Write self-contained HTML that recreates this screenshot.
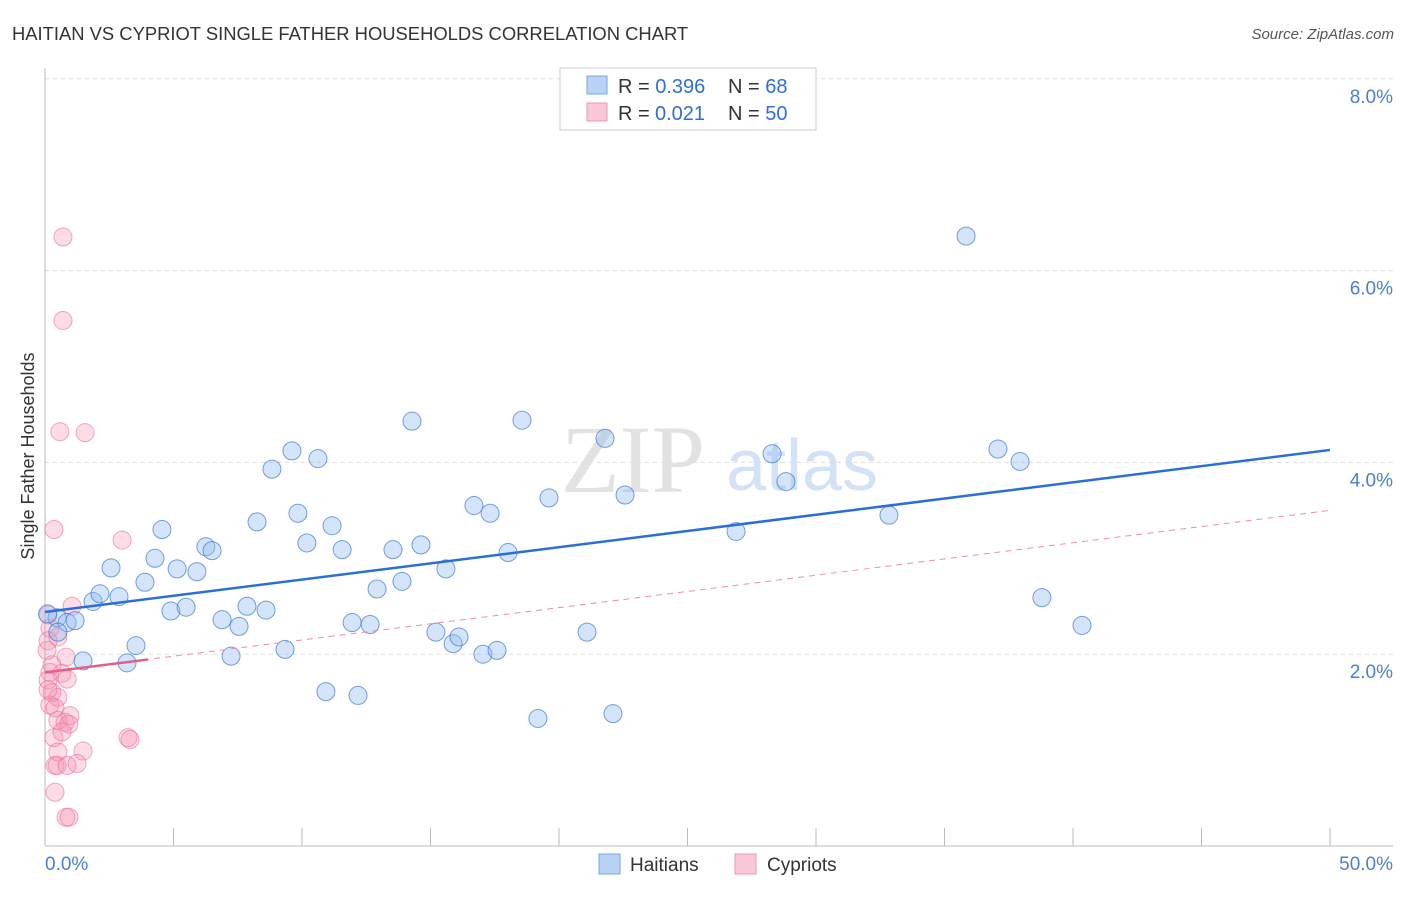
<!DOCTYPE html>
<html><head><meta charset="utf-8"><style>
body{margin:0;background:#fff;font-family:"Liberation Sans",sans-serif}
</style></head><body>
<svg width="1406" height="892" xmlns="http://www.w3.org/2000/svg" font-family="Liberation Sans, sans-serif">
<text x="12" y="40" font-size="18.4" fill="#333">HAITIAN VS CYPRIOT SINGLE FATHER HOUSEHOLDS CORRELATION CHART</text>
<text x="1394" y="39" font-size="15" fill="#555" font-style="italic" text-anchor="end">Source: ZipAtlas.com</text>
<g id="grid"></g>
<g id="axes"></g>
<text x="633" y="492" font-size="96" fill="#e2e2e2" font-family="Liberation Serif, serif" text-anchor="middle">ZIP</text>
<text x="802" y="490" font-size="72" fill="#d3e2f5" text-anchor="middle">atlas</text>
<g id="marks"></g>
<text transform="translate(34,456) rotate(-90)" font-size="18" fill="#333" text-anchor="middle">Single Father Households</text>
<g>
<rect x="560" y="68" width="256" height="62" fill="#fff" stroke="#ccc"/>
<rect x="587" y="76" width="20" height="18" fill="#b9d3f5" stroke="#7aa6e0"/>
<rect x="587" y="103" width="20" height="18" fill="#f9c7d6" stroke="#ec9ab4"/>
<text x="618" y="93" font-size="20" fill="#333">R = <tspan fill="#2f6fd6">0.396</tspan></text>
<text x="728" y="93" font-size="20" fill="#333">N = <tspan fill="#2f6fd6">68</tspan></text>
<text x="618" y="120" font-size="20" fill="#333">R = <tspan fill="#2f6fd6" x="655">0.021</tspan></text>
<text x="728" y="120" font-size="20" fill="#333">N = <tspan fill="#2f6fd6">50</tspan></text>
</g>
<g>
<rect x="599" y="854" width="21" height="20" fill="#b9d3f5" stroke="#7aa6e0"/>
<text x="630" y="871" font-size="19" fill="#333">Haitians</text>
<rect x="735" y="854" width="21" height="20" fill="#f9c7d6" stroke="#ec9ab4"/>
<text x="767" y="871" font-size="19" fill="#333">Cypriots</text>
</g>
</svg>
<script>
const yTicks=[2,4,6,8];
const yTickLabels=["2.0%","4.0%","6.0%","8.0%"];
const xEnds=[0,50];
const xEndLabels=["0.0%","50.0%"];
const haitiansX=[0.47,0.86,1.17,0.5,1.48,1.87,2.14,2.57,2.88,3.19,3.54,3.89,4.28,4.55,4.9,5.14,5.49,5.91,6.26,6.5,6.89,7.24,7.55,7.86,8.25,8.6,8.83,9.34,9.61,9.84,10.19,10.62,10.93,11.17,11.56,11.95,12.18,12.65,12.92,13.54,13.89,14.28,14.63,15.21,15.6,15.88,16.11,16.69,17.04,17.32,17.59,18.02,18.56,19.18,19.61,21.09,21.79,22.1,22.57,26.89,28.29,28.83,32.84,35.84,37.08,37.94,38.79,40.35,0.1];
const haitiansY=[2.38,2.33,2.35,2.23,1.93,2.55,2.63,2.9,2.6,1.91,2.09,2.75,3.0,3.3,2.45,2.89,2.49,2.86,3.12,3.08,2.36,1.98,2.29,2.5,3.38,2.46,3.93,2.05,4.12,3.47,3.16,4.04,1.61,3.34,3.09,2.33,1.57,2.31,2.68,3.09,2.76,4.43,3.14,2.23,2.89,2.11,2.18,3.55,2.0,3.47,2.04,3.06,4.44,1.33,3.63,2.23,4.25,1.38,3.66,3.28,4.09,3.8,3.45,6.36,4.14,4.01,2.59,2.3,2.42];
const cypriotsX=[0.7,0.7,0.58,1.56,0.35,3.0,1.05,0.12,0.19,0.5,0.82,0.27,0.19,0.66,0.12,0.86,0.27,0.5,0.19,0.39,0.97,0.5,0.78,0.93,0.35,0.66,3.23,3.31,0.5,1.48,0.39,0.47,0.86,1.25,0.39,0.82,0.93,0.12,0.12,0.08];
const cypriotsY=[6.35,5.48,4.32,4.31,3.3,3.19,2.5,2.41,2.27,2.18,1.97,1.89,1.81,1.8,1.73,1.74,1.6,1.55,1.47,1.44,1.36,1.31,1.29,1.27,1.13,1.19,1.13,1.11,0.98,0.99,0.84,0.84,0.84,0.86,0.56,0.3,0.3,1.63,2.14,2.04];
const haitiansTrend=[2.44,4.13];
const cypriotsTrend=[1.81,3.5];
const cypriotsSolidEnd=4;
const NS="http://www.w3.org/2000/svg";
const X0=45,X1=1330,Y0=846,PY=95.9;
const sx=v=>X0+(v-0)/(50-0)*(X1-X0);
const sy=v=>Y0-v*PY;
function mk(tag,attrs,parent){const e=document.createElementNS(NS,tag);for(const k in attrs)e.setAttribute(k,attrs[k]);parent.appendChild(e);return e;}
const grid=document.getElementById('grid'),axes=document.getElementById('axes'),marks=document.getElementById('marks');
yTicks.forEach((t,i)=>{
 const l=mk('line',{x1:X0,x2:1393,y1:sy(t),y2:sy(t),stroke:'#ddd','stroke-dasharray':'4,4'},grid);
 
 
 const tx=mk('text',{x:1393,y:sy(t)+24,'font-size':19,fill:'#4a7fd6','text-anchor':'end'},axes);
 tx.textContent=yTickLabels[i];
 
 
});
const la=mk('line',{x1:X0,x2:X0,y1:68,y2:Y0,stroke:'#bbb'},axes);


const lb=mk('line',{x1:X0,x2:1393,y1:Y0,y2:Y0,stroke:'#bbb'},axes);


for(let v=5;v<=50;v+=5){
 const t=mk('line',{x1:sx(v),x2:sx(v),y1:828,y2:Y0,stroke:'#bbb'},axes);
 
 
}
xEnds.forEach((v,i)=>{
 const t=mk('text',{x:i?1393:45,y:870,'font-size':19,fill:'#4a7fd6','text-anchor':i?'end':'start'},axes);
 t.textContent=xEndLabels[i];
 
 
});
cypriotsX.forEach((x,i)=>{
 const c=mk('circle',{cx:sx(x),cy:sy(cypriotsY[i]),r:9,fill:'rgba(244,143,177,0.3)',stroke:'rgba(236,110,150,0.6)','stroke-width':1},marks);
 
 
});
haitiansX.forEach((x,i)=>{
 const c=mk('circle',{cx:sx(x),cy:sy(haitiansY[i]),r:9,fill:'rgba(150,190,240,0.4)',stroke:'rgba(60,120,210,0.7)','stroke-width':1},marks);
 
 
});
const cd=mk('line',{x1:sx(0),x2:sx(50),y1:sy(cypriotsTrend[0]),y2:sy(cypriotsTrend[1]),stroke:'#e890ac','stroke-width':1,'stroke-dasharray':'6,5'},marks);


const cyEnd=cypriotsTrend[0]+(cypriotsTrend[1]-cypriotsTrend[0])*cypriotsSolidEnd/50;
const cs=mk('line',{x1:sx(0),x2:sx(cypriotsSolidEnd),y1:sy(cypriotsTrend[0]),y2:sy(cyEnd),stroke:'#e0608a','stroke-width':2.5},marks);


const ht=mk('line',{x1:sx(0),x2:sx(50),y1:sy(haitiansTrend[0]),y2:sy(haitiansTrend[1]),stroke:'#2b6fd6','stroke-width':2.5},marks);


</script>
</body></html>
